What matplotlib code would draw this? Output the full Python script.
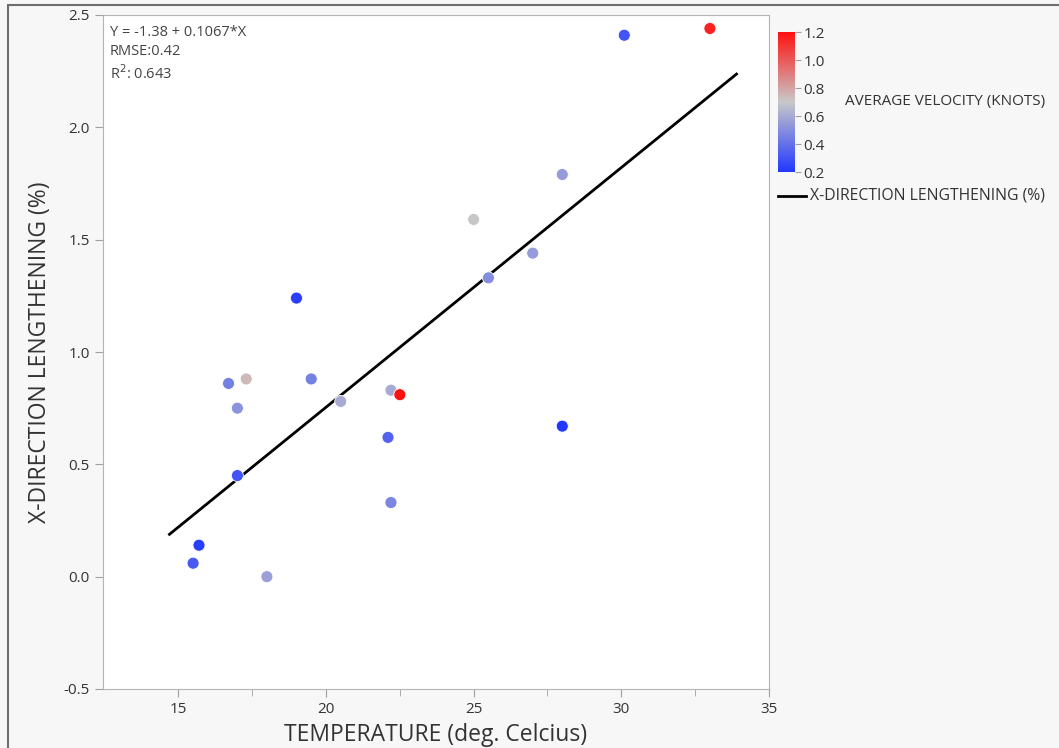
# Scatter of X-direction lengthening vs temperature, coloured by average velocity
import numpy as np
import matplotlib
matplotlib.use("Agg")
import matplotlib.pyplot as plt
from matplotlib.colors import LinearSegmentedColormap, Normalize
from matplotlib.lines import Line2D
from matplotlib.patches import Rectangle

plt.rcParams['font.family'] = ['Open Sans', 'DejaVu Sans']

temperature = [15.5, 15.7, 16.7, 17.0, 17.0, 17.3, 18.0, 19.0, 19.5, 20.5, 22.1,
               22.2, 22.2, 22.5, 25.0, 25.5, 27.0, 28.0, 28.0, 30.1, 33.0]
lengthening = [0.06, 0.14, 0.86, 0.75, 0.45, 0.88, 0.00, 1.24, 0.88, 0.78, 0.62,
               0.83, 0.33, 0.81, 1.59, 1.33, 1.44, 1.79, 0.67, 2.41, 2.44]
velocity = [0.32, 0.22, 0.45, 0.52, 0.30, 0.74, 0.56, 0.22, 0.45, 0.60, 0.35,
            0.60, 0.47, 1.20, 0.70, 0.50, 0.55, 0.55, 0.20, 0.30, 1.15]

fit_intercept = -1.38
fit_slope = 0.1067
fit_range = [14.7, 33.9]

cmap = LinearSegmentedColormap.from_list(
    "bgr", ["#2237ff", "#c8c8c8", "#ff1010"])
norm = Normalize(vmin=0.2, vmax=1.2)

fig = plt.figure(figsize=(10.59, 7.48), dpi=100)
fig.patch.set_facecolor("#f7f7f7")
W, H = 1059, 748

# outer frame
fig.add_artist(Rectangle((8 / W, -0.01), 1.2, (748 - 5) / H + 0.01,
                         transform=fig.transFigure, fill=False,
                         edgecolor="#6e6e6e", linewidth=1.5))

ax = fig.add_axes([103 / W, (748 - 689) / H, (769 - 103) / W, (689 - 15) / H])
ax.set_facecolor("white")

ax.scatter(temperature, lengthening, c=velocity, cmap=cmap, norm=norm,
           s=75, edgecolors="white", linewidths=0.6, zorder=3)

xs = np.array(fit_range)
ax.plot(xs, fit_intercept + fit_slope * xs, color="black", lw=2, zorder=2)

ax.set_xlim(12.45, 35)
ax.set_ylim(-0.5, 2.5)
ax.set_xticks([15, 20, 25, 30, 35])
ax.set_xticks([17.5, 22.5, 27.5, 32.5], minor=True)
ax.set_yticks([-0.5, 0.0, 0.5, 1.0, 1.5, 2.0, 2.5])
ax.set_yticklabels(["-0.5", "0.0", "0.5", "1.0", "1.5", "2.0", "2.5"])
for s in ax.spines.values():
    s.set_color("#b4b4b4")
ax.tick_params(which="both", direction="out", color="#a0a0a0",
               labelcolor="#333333", labelsize=11)
ax.tick_params(which="major", length=6)
ax.tick_params(which="minor", length=5)

ax.set_xlabel("TEMPERATURE (deg. Celcius)", fontsize=16.5, color="#333333",
              labelpad=4)
ax.set_ylabel("X-DIRECTION LENGTHENING (%)", fontsize=16.5, color="#333333",
              labelpad=8)

ax.text(0.01, 0.985, "Y = -1.38 + 0.1067*X\nRMSE:0.42\nR$^2$: 0.643",
        transform=ax.transAxes, va="top", ha="left", fontsize=10.5,
        color="#444444", linespacing=1.35)

# colour bar
cax = fig.add_axes([778 / W, (748 - 172) / H, 17 / W, 140 / H])
cb = fig.colorbar(matplotlib.cm.ScalarMappable(norm=norm, cmap=cmap), cax=cax)
cb.set_ticks([0.2, 0.4, 0.6, 0.8, 1.0, 1.2])
cb.outline.set_visible(False)
cax.tick_params(length=4, color="#a0a0a0", labelsize=11, labelcolor="#333333",
                pad=2)
fig.text(845 / W, 1 - 102 / H, "AVERAGE VELOCITY (KNOTS)", fontsize=11,
         color="#333333", va="center", ha="left")

# legend line
fig.add_artist(Line2D([778 / W, 806 / W], [1 - 196 / H, 1 - 196 / H],
                      transform=fig.transFigure, color="black", lw=2))
fig.text(810 / W, 1 - 196 / H, "X-DIRECTION LENGTHENING (%)", fontsize=11.3,
         color="#333333", va="center", ha="left")

fig.savefig("out.png", dpi=100, facecolor=fig.get_facecolor())
